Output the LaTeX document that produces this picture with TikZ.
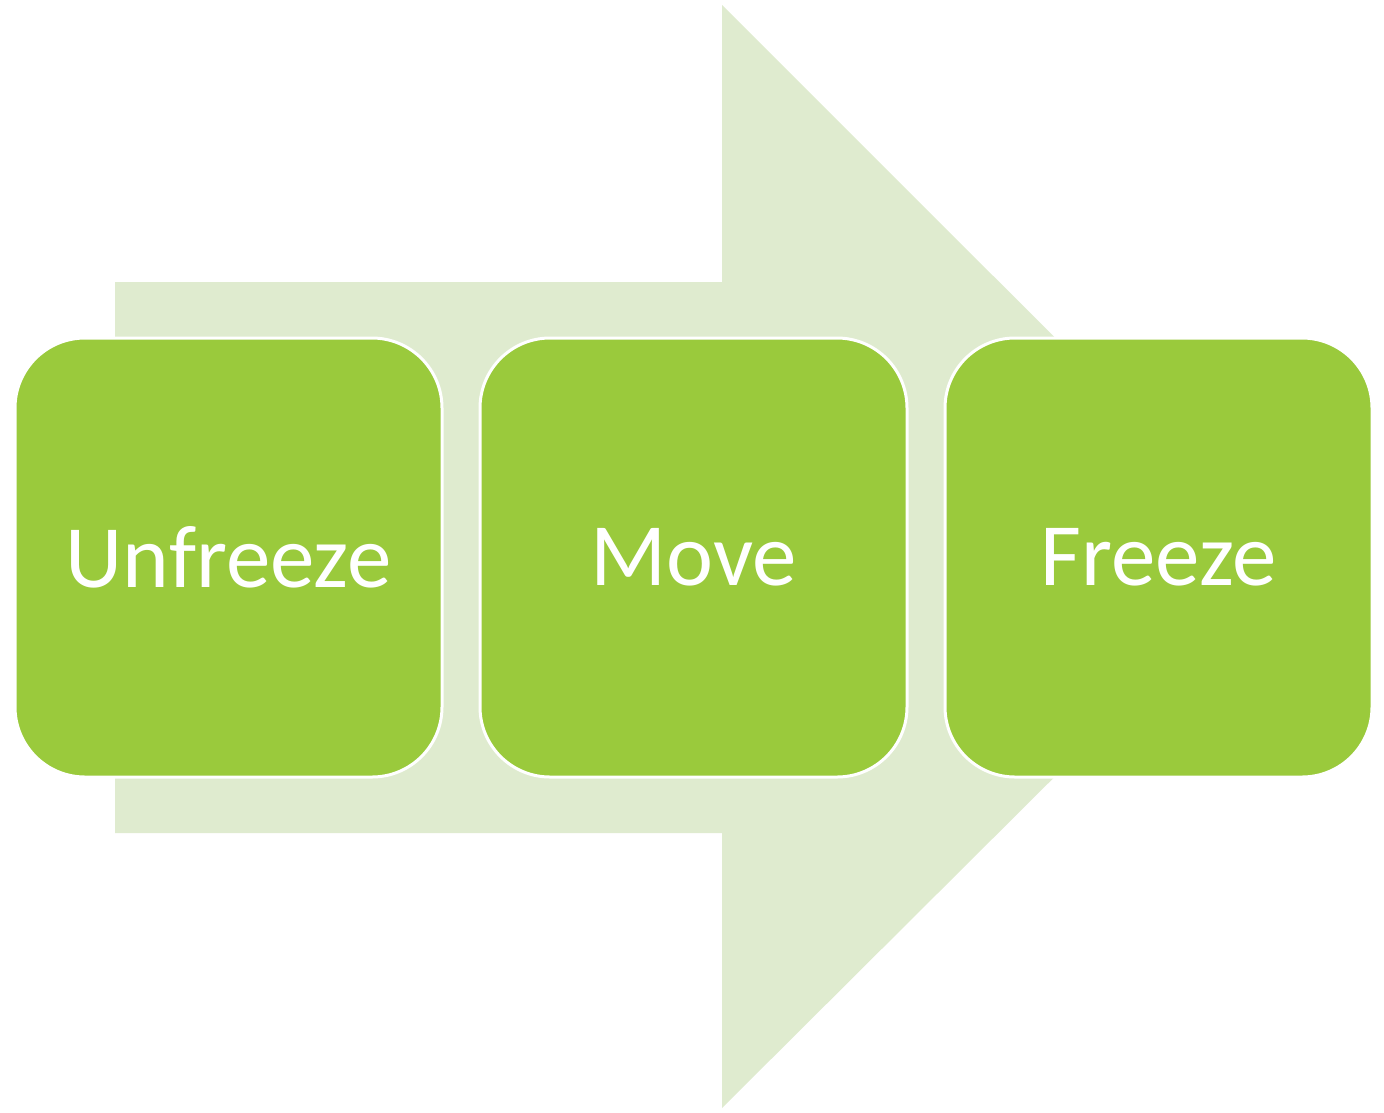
\documentclass[tikz,border=0pt]{standalone}
\usepackage{fontspec}
\setmainfont{Carlito}
\usetikzlibrary{positioning}
\definecolor{stage}{HTML}{9ACA3C}
\definecolor{flow}{HTML}{DFEBCF}
\begin{document}
\begin{tikzpicture}[x=1pt, y=-1pt,
  stagebox/.style={draw=white, line width=3pt, fill=stage, rounded corners=70pt,
    minimum width=427pt, minimum height=439pt, inner sep=0pt, text=white,
    font=\fontsize{89}{100}\selectfont}]
 \useasboundingbox (0,0) rectangle (1384,1112);
 \fill[flow] (115,282) -- (722,282) -- (722,5) -- (1275,557.5) -- (722,1108)
   -- (722,833) -- (115,833) -- cycle;
 \node[stagebox] (unfreeze) at (228.5,557.5) {Unfreeze};
 \node[stagebox, right=35pt of unfreeze] (move) {Move};
 \node[stagebox, right=35pt of move] (freeze) {Freeze};
\end{tikzpicture}
\end{document}
